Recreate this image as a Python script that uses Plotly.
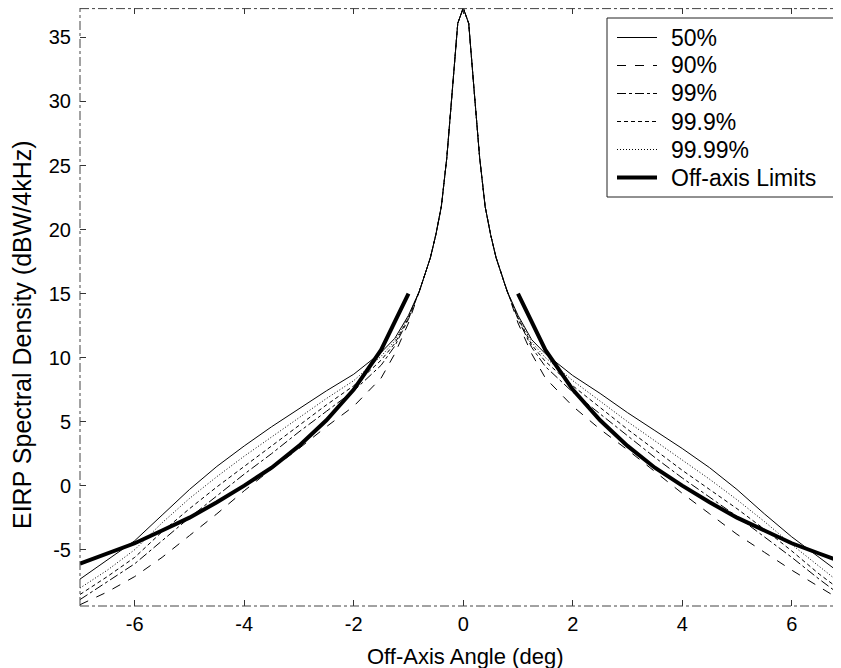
import plotly.graph_objects as go

# ---------------- data ----------------
angles = [-7, -6.5, -6, -5.5, -5, -4.5, -4, -3.5, -3, -2.5, -2, -1.5, -1.25, -1.0,
          -0.8, -0.6, -0.5, -0.4, -0.3, -0.2, -0.1, 0, 0.1, 0.2, 0.3, 0.4, 0.5, 0.6, 0.8,
          1.0, 1.25, 1.5, 2, 2.5, 3, 3.5, 4, 4.5, 5, 5.5, 6, 6.5, 7]

# main lobe values shared by all curves (|angle| <= 0.8), left to right
core = [15.2, 17.8, 19.6, 21.8, 25.6, 30.8, 36.1, 37.3, 36.1, 30.8, 25.6, 21.8, 19.6, 17.8, 15.2]

# side values, left side listed from -7 up to -1.0, right side from 1.0 up to 7
p50_left    = [-7.3, -5.8, -4.3, -2.3, -0.3, 1.5, 3.1, 4.6, 6.0, 7.4, 8.7, 10.4, 11.5, 13.3]
p50_right   = [13.3, 11.4, 10.3, 8.6, 7.2, 5.7, 4.3, 2.9, 1.4, -0.3, -2.2, -4.0, -5.6, -7.2]
p90_left    = [-9.3, -8.3, -7.1, -5.6, -3.9, -2.2, -0.4, 1.3, 2.9, 4.6, 6.2, 8.4, 10.3, 12.7]
p90_right   = [12.7, 10.3, 8.4, 6.2, 4.4, 2.8, 1.1, -0.6, -2.2, -3.8, -5.2, -6.6, -7.9, -9.2]
p99_left    = [-8.9, -7.5, -6.1, -4.3, -2.5, -0.8, 0.9, 2.5, 4.2, 5.8, 7.4, 9.4, 10.9, 13.0]
p99_right   = [13.0, 10.8, 9.3, 7.3, 5.6, 3.9, 2.2, 0.6, -0.9, -2.4, -4.0, -5.6, -7.3, -8.9]
p999_left   = [-8.5, -7.1, -5.6, -3.6, -1.8, -0.1, 1.5, 3.1, 4.7, 6.3, 7.8, 9.8, 11.1, 13.1]
p999_right  = [13.1, 11.0, 9.7, 7.8, 6.1, 4.4, 2.8, 1.2, -0.3, -1.8, -3.4, -5.1, -6.9, -8.5]
p9999_left  = [-8.0, -6.6, -5.0, -2.9, -1.0, 0.7, 2.3, 3.8, 5.3, 6.8, 8.2, 10.1, 11.3, 13.2]
p9999_right = [13.2, 11.2, 10.0, 8.2, 6.6, 5.0, 3.5, 2.0, 0.5, -1.1, -2.8, -4.6, -6.3, -8.0]

# off-axis limit (thick line), two branches
limit_angles = [-7, -6.5, -6, -5.5, -5, -4.5, -4, -3.5, -3, -2.5, -2, -1.5, -1, None,
                1, 1.5, 2, 2.5, 3, 3.5, 4, 4.5, 5, 5.5, 6, 6.5, 7]
limit_values = [-6.1, -5.3, -4.5, -3.5, -2.5, -1.3, 0.0, 1.4, 3.1, 5.1, 7.5, 10.6, 15.0, None,
                15.0, 10.6, 7.5, 5.1, 3.1, 1.4, 0.0, -1.3, -2.5, -3.5, -4.5, -5.3, -6.1]

series_names = ["50%", "90%", "99%", "99.9%", "99.99%"]
limit_name = "Off-axis Limits"
x_ticks = [-6, -4, -2, 0, 2, 4, 6]
y_ticks = [-5, 0, 5, 10, 15, 20, 25, 30, 35]

# ---------------- figure ----------------
FONT = "Liberation Sans, Arial, Helvetica, sans-serif"
OFF = 8                                   # page body margin in the browser
W, H = 841 - OFF, 668 - OFF
PL, PR, PT, PB = 80, 841, 8, 606          # plot area, in reference-screen pixels


def px_x(p):
    return (p - PL) / (PR - PL)


def px_y(p):
    return (PB - p) / (PB - PT)


dashes = ["solid", "dash", "dashdot", "4px,3px", "1px,2px"]
series_data = [
    (p50_left, p50_right), (p90_left, p90_right), (p99_left, p99_right),
    (p999_left, p999_right), (p9999_left, p9999_right),
]

fig = go.Figure()
for name, (left, right), dash in zip(series_names, series_data, dashes):
    fig.add_trace(go.Scatter(
        x=angles, y=left + core + right, mode="lines", name=name,
        line=dict(color="black", width=1, dash=dash),
    ))
fig.add_trace(go.Scatter(
    x=limit_angles, y=limit_values, mode="lines", name=limit_name, yaxis="y2",
    line=dict(color="black", width=4), connectgaps=False,
))

shapes = []
frame_line = dict(color="#444444", width=1, dash="dashdot")
for x0, x1, y0, y1 in [(0, 0, 0, 1), (0, 1, 0.999, 0.999), (0, 1, 0, 0)]:
    shapes.append(dict(type="line", xref="paper", yref="paper", x0=x0, x1=x1,
                       y0=y0, y1=y1, line=frame_line, layer="above"))

# legend box (drawn by hand to match the original's large legend font)
shapes.append(dict(type="rect", xref="paper", yref="paper",
                   x0=px_x(607), x1=px_x(838), y0=px_y(197), y1=px_y(18),
                   line=dict(color="#222222", width=1), fillcolor="white", layer="above"))
annotations = []
legend_names = series_names + [limit_name]
legend_dashes = dashes + ["solid"]
legend_widths = [1, 1, 1, 1, 1, 4]
for i, (nm, ds, wd) in enumerate(zip(legend_names, legend_dashes, legend_widths)):
    yc = 37.5 + 28 * i
    shapes.append(dict(type="line", xref="paper", yref="paper",
                       x0=px_x(617), x1=px_x(657), y0=px_y(yc), y1=px_y(yc),
                       line=dict(color="black", width=wd, dash=ds), layer="above"))
    annotations.append(dict(text=nm, xref="paper", yref="paper", x=px_x(669), y=px_y(yc),
                            xanchor="left", yanchor="middle", showarrow=False,
                            font=dict(size=23, family=FONT, color="black")))

annotations.append(dict(text="Off-Axis Angle (deg)", xref="paper", yref="paper",
                        x=px_x(465), y=px_y(656), xanchor="center", yanchor="middle",
                        showarrow=False, font=dict(size=22, family=FONT, color="black")))
annotations.append(dict(text="EIRP Spectral Density (dBW/4kHz)", xref="paper", yref="paper",
                        x=px_x(22), y=px_y(335), xanchor="center", yanchor="middle",
                        textangle=-90, showarrow=False,
                        font=dict(size=25, family=FONT, color="black")))

fig.update_layout(
    width=W, height=H,
    margin=dict(l=PL - OFF, r=841 - PR, t=PT - OFF, b=668 - PB, autoexpand=False),
    paper_bgcolor="white", plot_bgcolor="white",
    font=dict(family=FONT, size=20, color="black"),
    showlegend=False,
    shapes=shapes, annotations=annotations,
    xaxis=dict(
        range=[-7, 6.9], tickvals=x_ticks, ticktext=[str(v) for v in x_ticks],
        ticks="inside", ticklen=6, tickcolor="#333333", showgrid=False, zeroline=False,
        showline=False, mirror="ticks", tickfont=dict(size=20), automargin=False,
        ticklabelstandoff=4,
    ),
    yaxis=dict(
        range=[-9.4, 37.3], tickvals=y_ticks, showticklabels=False,
        ticks="inside", ticklen=6, tickcolor="#333333", showgrid=False, zeroline=False,
        showline=False, mirror="ticks", automargin=False,
    ),
    # same scale as yaxis, only used to place the tick labels close to the frame
    yaxis2=dict(
        overlaying="y", matches="y", anchor="free", position=0, side="left",
        tickvals=y_ticks, ticktext=[str(v) for v in y_ticks],
        ticks="outside", ticklen=5, tickcolor="rgba(0,0,0,0)",
        showgrid=False, zeroline=False, showline=False, tickfont=dict(size=20),
        automargin=False,
    ),
)

fig.write_html("out.html")
